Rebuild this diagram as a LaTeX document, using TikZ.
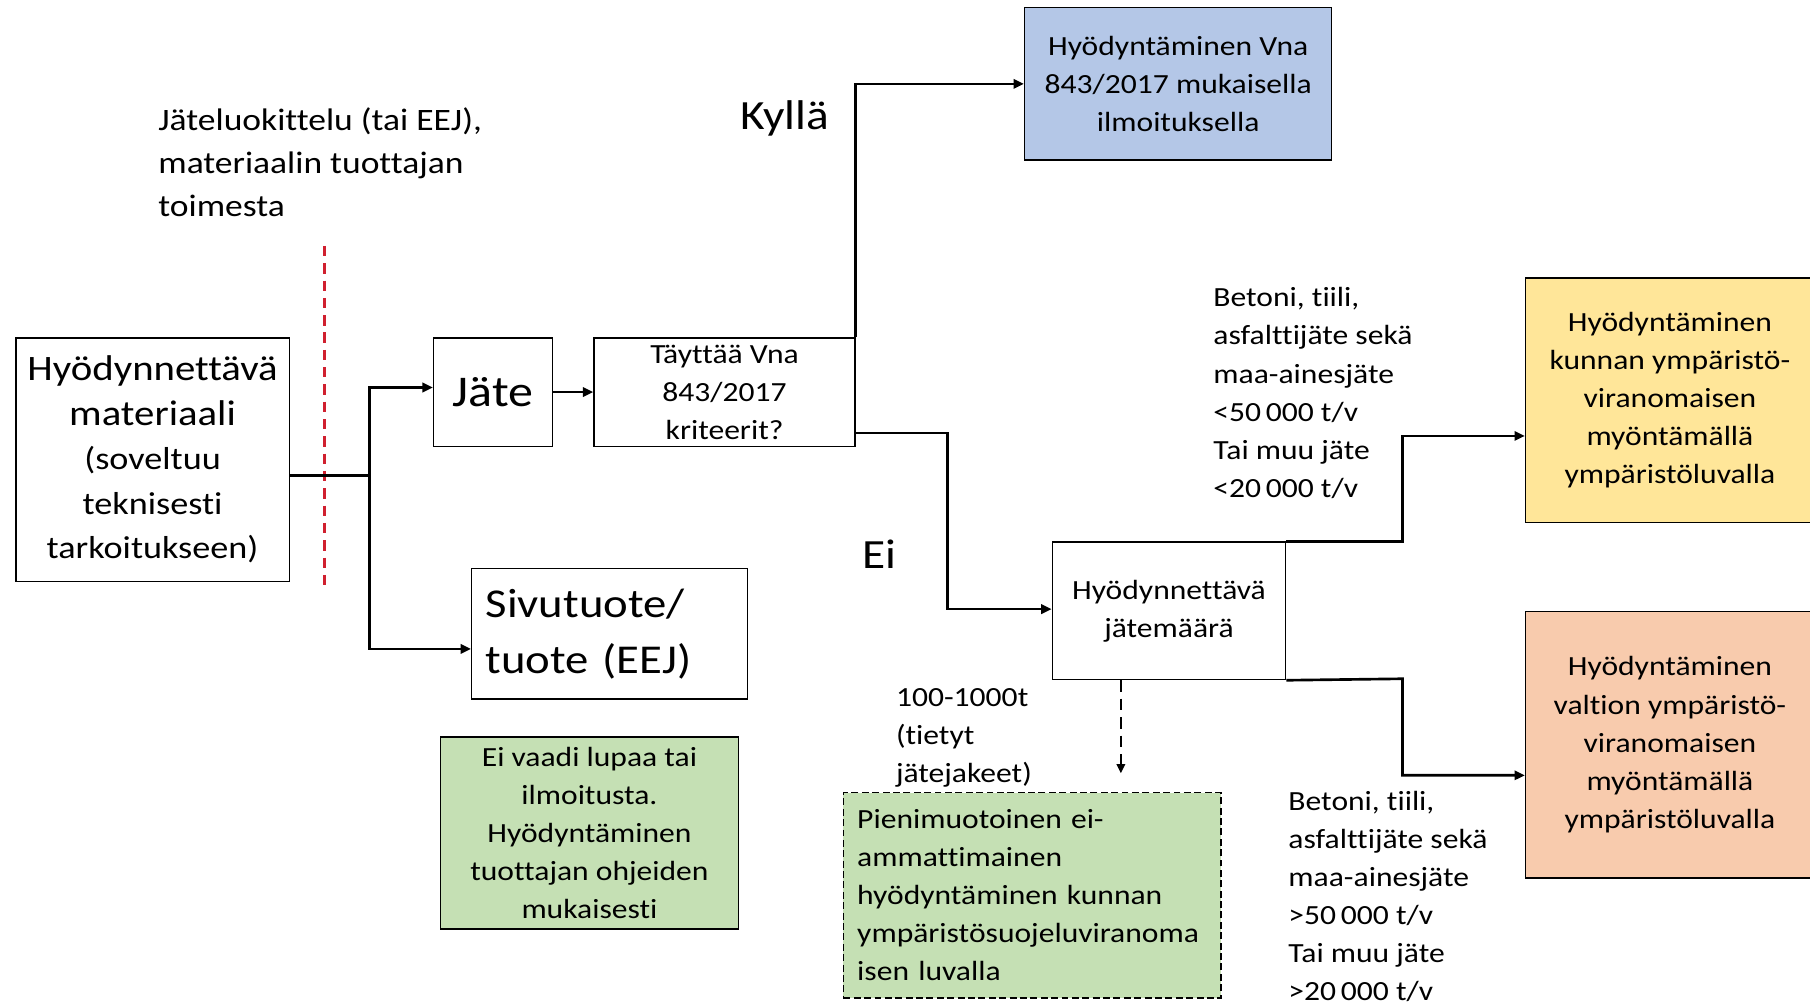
\documentclass[tikz,border=0pt]{standalone}
\usepackage{fontspec}
\setmainfont{Carlito}[FakeStretch=1.14, Ligatures=NoCommon]
\usetikzlibrary{arrows.meta}
\definecolor{bluefill}{HTML}{B4C7E7}
\definecolor{yellowfill}{HTML}{FFE699}
\definecolor{salmonfill}{HTML}{F8CBAD}
\definecolor{greenfill}{HTML}{C5E0B4}
\definecolor{reddash}{HTML}{D0202F}
\begin{document}
\begin{tikzpicture}[x=1pt,y=-1pt,
  box/.style={draw, line width=1.3pt, inner sep=0pt, anchor=north west, align=center},
  conn/.style={line width=2.3pt},
  arr/.style={conn, -{Triangle[length=9pt,width=8pt]}},
  fmed/.style={font=\fontsize{24}{33}\selectfont},
  fbig/.style={font=\fontsize{36}{40}\selectfont},
  plain/.style={inner sep=0pt, align=left, anchor=west},
]
\useasboundingbox[fill=white] (0,0) rectangle (1568,871);

% boxes
\node[box, minimum width=237pt, minimum height=211pt, font=\fontsize{27.5}{38.5}\selectfont] (src) at (13,292)
  {\fontsize{31}{38}\selectfont Hyödynnettävä\\\fontsize{31}{38}\selectfont materiaali\\(soveltuu\\teknisesti\\tarkoitukseen)};
\node[box, minimum width=103pt, minimum height=94pt, font=\fontsize{38}{40}\selectfont] (jate) at (375,292) {Jäte};
\node[box, minimum width=226pt, minimum height=94pt, fmed] (tayt) at (514,292) {Täyttää Vna\\843/2017\\kriteerit?};
\node[box, fill=bluefill, minimum width=266pt, minimum height=132pt, fmed] (blue) at (887,6)
  {Hyödyntäminen Vna\\843/2017 mukaisella\\ilmoituksella};
\node[box, minimum width=202pt, minimum height=119pt, fmed] (hm) at (911,469) {Hyödynnettävä\\jätemäärä};
\node[box, fill=yellowfill, minimum width=250pt, minimum height=212pt, fmed] (yel) at (1321,240)
  {Hyödyntäminen\\kunnan ympäristö-\\viranomaisen\\myöntämällä\\ympäristöluvalla};
\node[box, fill=salmonfill, minimum width=250pt, minimum height=231pt, fmed] (sal) at (1321,529)
  {Hyödyntäminen\\valtion ympäristö-\\viranomaisen\\myöntämällä\\ympäristöluvalla};
\node[box, minimum width=239pt, minimum height=113pt, align=left, text width=215pt, inner xsep=12pt,
  font=\fontsize{35.5}{49}\selectfont] (sivu) at (408,492) {Sivutuote/\\tuote (EEJ)};
\node[box, fill=greenfill, minimum width=258pt, minimum height=166pt, fmed] (grn) at (381,638)
  {Ei vaadi lupaa tai\\ilmoitusta.\\Hyödyntäminen\\tuottajan ohjeiden\\mukaisesti};
\node[box, fill=greenfill, dash pattern=on 6pt off 3pt, line width=1.2pt, minimum width=327pt, minimum height=178pt,
  align=left, text width=303pt, inner xsep=12pt, fmed] (small) at (730,686)
  {Pienimuotoinen ei-\\ammattimainen\\hyödyntäminen kunnan\\ympäristösuojeluviranoma\\isen luvalla};

% free texts
\node[plain, font=\fontsize{27}{37.5}\selectfont] (cls) at (137,140.5)
  {Jäteluokittelu (tai EEJ),\\materiaalin tuottajan\\toimesta};
\node[fbig, inner sep=0pt] (yes) at (680,103) {Kyllä};
\node[fbig, inner sep=0pt] (no) at (762,480) {Ei};
\node[plain, fmed] (lowlim) at (1051,340.5)
  {Betoni, tiili,\\asfalttijäte sekä\\maa-ainesjäte\\<50\,000 t/v\\Tai muu jäte\\<20\,000 t/v};
\node[plain, fmed] (highlim) at (1116,776.5)
  {Betoni, tiili,\\asfalttijäte sekä\\maa-ainesjäte\\>50\,000 t/v\\Tai muu jäte\\>20\,000 t/v};
\node[plain, fmed] (tiny) at (776,639.5) {100-1000t\\(tietyt\\jätejakeet)};

% classification boundary
\draw[reddash, line width=2pt, dash pattern=on 9pt off 6pt] (281,213) -- (281,510);

% connectors
\coordinate (split) at (320,412);
\draw[conn] (split -| src.east) -- (split);
\draw[arr] (split) |- ([yshift=4pt]jate.west);
\draw[arr] (split) |- ([yshift=-13pt]sivu.west);
\draw[arr] (jate.east) -- (tayt.west);
\draw[arr] (tayt.north east) |- (blue.west);
\coordinate (kneeno) at (821,375);
\draw[arr] (kneeno -| tayt.east) -- (kneeno) |- ([yshift=1.5pt]hm.west);
\coordinate (kneeup) at (1215,469);
\draw[arr] (hm.north east) -- (kneeup) |- ([yshift=-31pt]yel.west);
\coordinate (kneedown) at (1215,588);
\draw[arr] (hm.south east) -- (kneedown) |- ([yshift=-26.5pt]sal.west);
\coordinate (dashend) at (971,670);
\draw[line width=2pt, dash pattern=on 10pt off 6pt, -{Triangle[length=8pt,width=7pt]}] (dashend |- hm.south) -- (dashend);
\end{tikzpicture}
\end{document}
